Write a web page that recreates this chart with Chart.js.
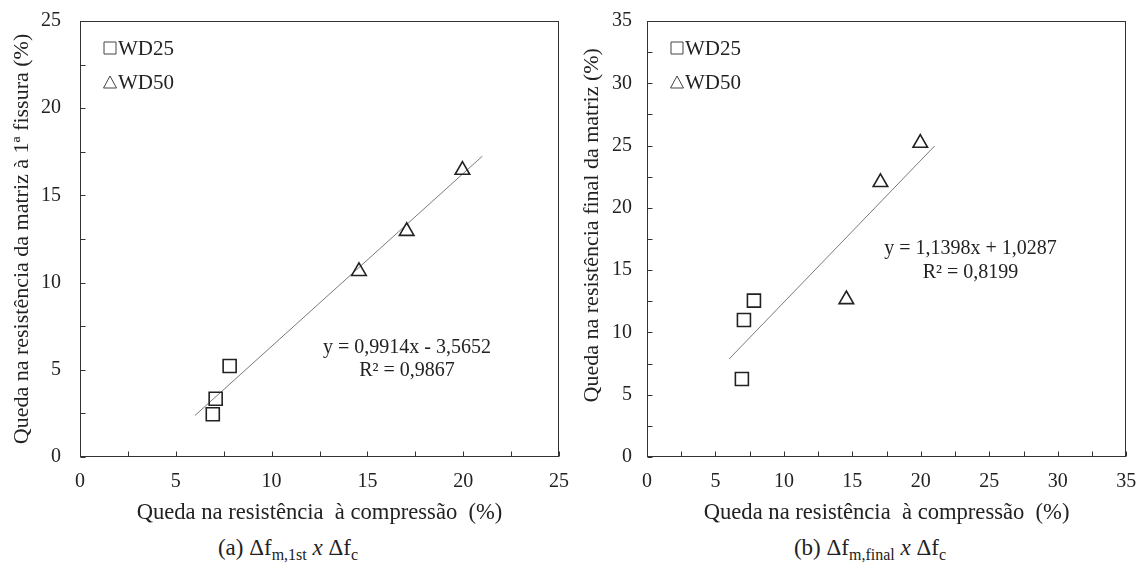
<!DOCTYPE html>
<html>
<head>
<meta charset="utf-8">
<script src="https://cdn.jsdelivr.net/npm/chart.js@4.4.1/dist/chart.umd.min.js"></script>
<style>
  html, body { margin: 0; padding: 0; background: #fff; width: 1137px; height: 566px; overflow: hidden; }
  .wrap { position: absolute; top: 0; }
  canvas { display: block; }
  .cap { position: absolute; font-family: "Liberation Serif", "Times New Roman", serif; font-size: 23px; line-height: 26px;
         color: #222; white-space: nowrap; transform: translateX(-50%); }
  .cap sub { font-size: 16px; line-height: 0; vertical-align: -5px; }
</style>
</head>
<body>
<div class="wrap" style="left:0px"><canvas id="chartA" width="575" height="530"></canvas></div>
<div class="wrap" style="left:562px"><canvas id="chartB" width="575" height="530"></canvas></div>
<div class="cap" style="left:288px; top:535px">(a) Δf<sub>m,1st</sub> <i>x</i> Δf<sub>c</sub></div>
<div class="cap" style="left:870px; top:535px">(b) Δf<sub>m,final</sub> <i>x</i> Δf<sub>c</sub></div>
<script>
// ---------------- data ----------------
const seriesNames = ['WD25', 'WD50'];
const deltaFcWD25 = [6.93, 7.08, 7.81];            // queda na resistência à compressão (%)
const deltaFcWD50 = [14.56, 17.05, 19.96];
const dropFirstCrackWD25 = [2.45, 3.34, 5.22];      // (a) queda à 1ª fissura (%)
const dropFirstCrackWD50 = [10.65, 12.95, 16.45];
const dropFinalWD25 = [6.26, 11.0, 12.55];          // (b) queda final (%)
const dropFinalWD50 = [12.65, 22.05, 25.2];
const trendX = [6, 21];                             // trend line end points
const trendFirstCrackY = [2.38, 17.25];
const trendFinalY = [7.87, 24.96];
const tickLabelsA = [0, 5, 10, 15, 20, 25];
const tickLabelsB = [0, 5, 10, 15, 20, 25, 30, 35];
const equationA = ['y = 0,9914x - 3,5652', 'R² = 0,9867'];
const equationB = ['y = 1,1398x + 1,0287', 'R² = 0,8199'];
const xTitle = 'Queda na resistência  à compressão  (%)';
const yTitleA = 'Queda na resistência da matriz à 1ª fissura (%)';
const yTitleB = 'Queda na resistência final da matriz (%)';

// ---------------- helpers ----------------
const FONT = "'Liberation Serif', 'Times New Roman', serif";
const INK = '#222';
Chart.defaults.font.family = FONT;
Chart.defaults.color = INK;
const pts = (xs, ys) => xs.map((x, i) => ({ x, y: ys[i] }));

function marker(ctx, style, cx, cy, w, h) {
  ctx.beginPath();
  if (style === 'rect') {
    ctx.rect(cx - w / 2, cy - h / 2, w, h);
  } else {
    ctx.moveTo(cx, cy - h / 2);
    ctx.lineTo(cx + w / 2, cy + h / 2);
    ctx.lineTo(cx - w / 2, cy + h / 2);
    ctx.closePath();
  }
  ctx.stroke();
}

const framePlugin = {
  id: 'frame',
  beforeDatasetsDraw(chart, args, o) {
    const { ctx, chartArea: a, scales: { x, y } } = chart;
    ctx.save();
    ctx.strokeStyle = o.color;
    ctx.lineWidth = 1;
    const L = Math.round(a.left) + 0.5, T = Math.round(a.top) + 0.5;
    const R = Math.round(a.right) - 0.5, B = Math.round(a.bottom) - 0.5;
    ctx.strokeRect(L, T, R - L, B - T);
    ctx.beginPath();
    for (let v = x.min; v <= x.max + 1e-9; v += o.step) {
      const px = Math.round(x.getPixelForValue(v)) + 0.5;
      ctx.moveTo(px, B); ctx.lineTo(px, B - o.len);
    }
    for (let v = y.min; v <= y.max + 1e-9; v += o.step) {
      const py = Math.round(y.getPixelForValue(v)) + 0.5;
      ctx.moveTo(L, py); ctx.lineTo(L + o.len, py);
    }
    ctx.stroke();
    ctx.restore();
  }
};

const legendPlugin = {
  id: 'insetLegend',
  afterDraw(chart, args, o) {
    const { ctx, chartArea: a } = chart;
    ctx.save();
    ctx.font = o.size + 'px ' + FONT;
    ctx.textBaseline = 'middle';
    ctx.textAlign = 'left';
    ctx.fillStyle = INK;
    ctx.strokeStyle = o.markerColor;
    ctx.lineWidth = 1;
    chart.data.datasets.filter(d => d.inLegend).forEach((d, i) => {
      const cx = a.left + o.x, cy = a.top + o.y[i];
      if (d.pointStyle === 'rect') marker(ctx, 'rect', cx, cy, 12, 12);
      else marker(ctx, 'triangle', cx, cy, 13, 12);
      ctx.fillText(d.label, cx + o.gap, cy + 1);
    });
    ctx.restore();
  }
};

const equationPlugin = {
  id: 'equation',
  afterDatasetsDraw(chart, args, o) {
    const { ctx, scales: { x, y } } = chart;
    ctx.save();
    ctx.font = o.size + 'px ' + FONT;
    ctx.textAlign = 'center';
    ctx.textBaseline = 'middle';
    ctx.fillStyle = INK;
    const px = x.getPixelForValue(o.at[0]), py = y.getPixelForValue(o.at[1]);
    o.lines.forEach((t, i) => ctx.fillText(t, px, py + i * o.gap));
    ctx.restore();
  }
};

function makeChart(id, cfg) {
  const scatterSet = (label, xs, ys, style, r) => ({
    label, data: pts(xs, ys), inLegend: true,
    pointStyle: style, pointRadius: r, pointHoverRadius: r,
    pointBorderColor: INK, pointBackgroundColor: 'rgba(0,0,0,0)', pointBorderWidth: 1.6,
    showLine: false
  });
  return new Chart(document.getElementById(id), {
    type: 'scatter',
    data: {
      datasets: [
        scatterSet(seriesNames[0], deltaFcWD25, cfg.y25, 'rect', 9.2),
        scatterSet(seriesNames[1], deltaFcWD50, cfg.y50, 'triangle', 8.4),
        {
          label: 'trend', type: 'line', data: pts(trendX, cfg.trendY), inLegend: false,
          borderColor: '#7a7a7a', borderWidth: 1, pointRadius: 0, fill: false, tension: 0
        }
      ]
    },
    options: {
      responsive: false, animation: false, devicePixelRatio: 1,
      layout: { padding: { top: 21, right: cfg.padRight, bottom: 0, left: 0 } },
      plugins: {
        legend: { display: false }, tooltip: { enabled: false },
        frame: { color: '#333', step: 2.5, len: 5 },
        insetLegend: { x: 30, y: [27, 61], gap: 8, size: 21, markerColor: '#444' },
        equation: { lines: cfg.eq, at: cfg.eqAt, gap: cfg.eqGap, size: 20 }
      },
      scales: {
        x: {
          type: 'linear', min: 0, max: cfg.max,
          afterBuildTicks: s => { s.ticks = cfg.ticks.map(v => ({ value: v })); },
          afterFit: s => { s.height = 73; },
          grid: { display: false, drawTicks: true, tickLength: 13 }, border: { display: false },
          ticks: { padding: 0, font: { family: FONT, size: 20 }, color: INK, callback: v => String(v) },
          title: { display: true, text: xTitle, font: { family: FONT, size: 22.6 }, color: INK, padding: { top: 0, bottom: 3 } }
        },
        y: {
          type: 'linear', min: 0, max: cfg.max,
          afterBuildTicks: s => { s.ticks = cfg.ticks.map(v => ({ value: v })); },
          afterFit: s => { s.width = cfg.yWidth; },
          grid: { display: false, drawTicks: true, tickLength: cfg.yTickGap - 2 }, border: { display: false },
          ticks: { padding: 2, font: { family: FONT, size: 20 }, color: INK, callback: v => String(v) },
          title: { display: true, text: cfg.yTitle, font: { family: FONT, size: 22 }, color: INK, padding: { top: cfg.yTitlePad, bottom: 0 } }
        }
      }
    },
    plugins: [framePlugin, legendPlugin, equationPlugin]
  });
}

makeChart('chartA', {
  y25: dropFirstCrackWD25, y50: dropFirstCrackWD50, trendY: trendFirstCrackY,
  max: 25, ticks: tickLabelsA, eq: equationA, eqAt: [17.07, 6.25], eqGap: 23,
  padRight: 16, yWidth: 80, yTickGap: 19, yTitle: yTitleA, yTitlePad: 9
});
makeChart('chartB', {
  y25: dropFinalWD25, y50: dropFinalWD50, trendY: trendFinalY,
  max: 35, ticks: tickLabelsB, eq: equationB, eqAt: [23.63, 16.75], eqGap: 24,
  padRight: 10, yWidth: 85, yTickGap: 15, yTitle: '\u00a0\u00a0\u00a0\u00a0\u00a0' + yTitleB, yTitlePad: 17
});
</script>
</body>
</html>
